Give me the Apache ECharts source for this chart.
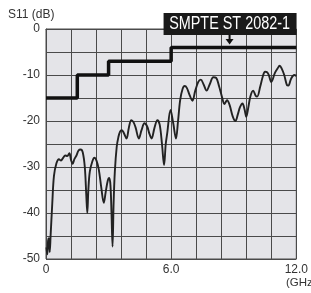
<!DOCTYPE html>
<html lang="en">
<head>
    <meta charset="UTF-8">
    <title>S11</title>
    <script src="https://cdn.jsdelivr.net/npm/echarts@6/dist/echarts.min.js"></script>
    <style>
        body { margin: 0; background: #fff; }
        #main { width: 311px; height: 293px; }
    </style>
</head>
<body>
<div id="main"></div>
<script type="text/javascript">
    // SMPTE ST 2082-1 return loss mask (GHz, dB)
    var maskFreq = [0, 1.5, 1.5, 3, 3, 6, 6, 12];
    var maskLoss = [-15, -15, -10, -10, -7, -7, -4, -4];

    var s11Freq = [0.02, 0.06, 0.1, 0.14, 0.18, 0.22, 0.3, 0.38, 0.5, 0.62, 0.72, 0.82, 0.92, 1.02, 1.12, 1.2,
        1.28, 1.36, 1.46, 1.56, 1.66, 1.76, 1.86, 1.93, 1.98, 2.03, 2.1, 2.22, 2.32, 2.42, 2.53, 2.65,
        2.77, 2.86, 2.96, 3.03, 3.09, 3.14, 3.19, 3.24, 3.3, 3.39, 3.47, 3.55, 3.63, 3.72, 3.86, 3.97,
        4.09, 4.2, 4.3, 4.45, 4.58, 4.72, 4.85, 4.96, 5.06, 5.2, 5.34, 5.45, 5.56, 5.66, 5.74, 5.81,
        5.97, 6.1, 6.23, 6.33, 6.43, 6.55, 6.65, 6.75, 6.88, 7.02, 7.15, 7.3, 7.42, 7.55, 7.7, 7.85,
        8.02, 8.15, 8.3, 8.45, 8.55, 8.68, 8.8, 8.95, 9.08, 9.2, 9.3, 9.42, 9.52, 9.6, 9.7, 9.8,
        9.93, 10.05, 10.12, 10.27, 10.4, 10.5, 10.6, 10.68, 10.8, 10.97, 11.1, 11.2, 11.3, 11.42, 11.55, 11.62,
        11.75, 11.9, 12.0];
    var s11Loss = [-47.5, -49, -46, -45.5, -48.5, -45, -38, -32, -29.2, -28.3, -28.6, -28, -27.5, -27.6, -27, -28.5,
        -29.3, -28.3, -27.5, -26.4, -26.2, -26.8, -30, -36, -40, -35, -31, -28.8, -28, -28.6, -30.5, -34.5,
        -37.8, -35.5, -33, -32.4, -34, -40, -47.3, -38, -31, -25.6, -23.5, -22.3, -22, -22.5, -23.8, -21.5,
        -19.8, -20.3, -21.5, -23.8, -22, -20.5, -21.2, -22.8, -23.8, -21.5, -19.8, -20.8, -25, -29.6, -25, -22.7,
        -17.6, -20.5, -23.8, -20, -15.5, -13, -12.4, -12.8, -14.3, -15.6, -13.5, -11.5, -11, -12, -13.4, -12,
        -10.5, -10.6, -12.5, -15, -16.3, -15.5, -16.5, -19, -20, -18.5, -17, -16.2, -17.5, -19.1, -17, -14.6,
        -13.4, -14.5, -14.7, -12.5, -10.2, -9.3, -9.4, -10, -11.5, -9.6, -8.6, -8, -8.6, -10, -12.2, -12.3,
        -10.8, -10, -10.2];

    var xLabels = {0: '0', 6: '6.0', 12: '12.0'};
    var yLabels = [0, -10, -20, -30, -40, -50];
    var labelFreq = 8.8; // where the mask label arrow points

    var font = "'Liberation Sans', Arial, sans-serif";
    var chart = echarts.init(document.getElementById('main'));

    function pairs(xs, ys) {
        return xs.map(function (x, i) { return [x, ys[i]]; });
    }

    chart.setOption({
        animation: false,
        grid: {
            left: 46, right: 9, top: 29, bottom: 34,
            show: true,
            backgroundColor: '#e4e4e8',
            borderColor: '#4a4a4a',
            borderWidth: 1
        },
        xAxis: {
            type: 'value',
            min: 0, max: 12, interval: 1.2,
            axisLine: { lineStyle: { color: '#4a4a4a', width: 1 } },
            axisTick: { show: false },
            splitLine: { lineStyle: { color: '#4a4a4a', width: 1 } },
            axisLabel: {
                color: '#333', fontFamily: font, fontSize: 12, margin: 5,
                showMaxLabel: true,
                formatter: function (v) {
                    var r = Math.round(v * 10) / 10;
                    return xLabels.hasOwnProperty(r) ? xLabels[r] : '';
                }
            }
        },
        yAxis: {
            type: 'value',
            min: -50, max: 0, interval: 5,
            axisLine: { show: true, lineStyle: { color: '#4a4a4a', width: 1 } },
            axisTick: { show: false },
            splitLine: { lineStyle: { color: '#4a4a4a', width: 1 } },
            axisLabel: {
                color: '#333', fontFamily: font, fontSize: 12, margin: 6,
                formatter: function (v) {
                    return yLabels.indexOf(v) >= 0 ? String(v) : '';
                }
            }
        },
        series: [
            {
                name: 'S11',
                type: 'line',
                data: pairs(s11Freq, s11Loss),
                showSymbol: false,
                smooth: 0.35,
                lineStyle: { color: '#222', width: 1.9 },
                z: 3
            },
            {
                name: 'mask',
                type: 'line',
                data: pairs(maskFreq, maskLoss),
                showSymbol: false,
                lineStyle: { color: '#111', width: 3.5 },
                z: 4
            }
        ]
    });

    // annotation box + arrow, placed from the axes
    var tip = chart.convertToPixel({ gridIndex: 0 }, [labelFreq, maskLoss[maskLoss.length - 1]]);
    var cx = tip[0];
    chart.setOption({
        graphic: [
            { type: 'text', left: 8, top: 9,
              style: { text: 'S11 (dB)', fill: '#333', font: '12px ' + font } },
            { type: 'text', left: 286, top: 277,
              style: { text: '(GHz)', fill: '#333', font: '11.5px ' + font } },
            { type: 'rect', shape: { x: cx - 66, y: 13, width: 133, height: 22 },
              style: { fill: '#1a1a1a' }, z: 10 },
            { type: 'text', x: cx, y: 24, scaleX: 0.8,
              style: { text: 'SMPTE ST 2082-1', fill: '#fff', align: 'center', verticalAlign: 'middle',
                       font: '18px ' + font }, z: 11 },
            { type: 'line', shape: { x1: cx, y1: 35, x2: cx, y2: 40 },
              style: { stroke: '#111', lineWidth: 2 }, z: 10 },
            { type: 'polygon', shape: { points: [[cx - 4, 39], [cx + 4, 39], [cx, tip[1] - 3]] },
              style: { fill: '#111' }, z: 10 }
        ]
    });
</script>
</body>
</html>
